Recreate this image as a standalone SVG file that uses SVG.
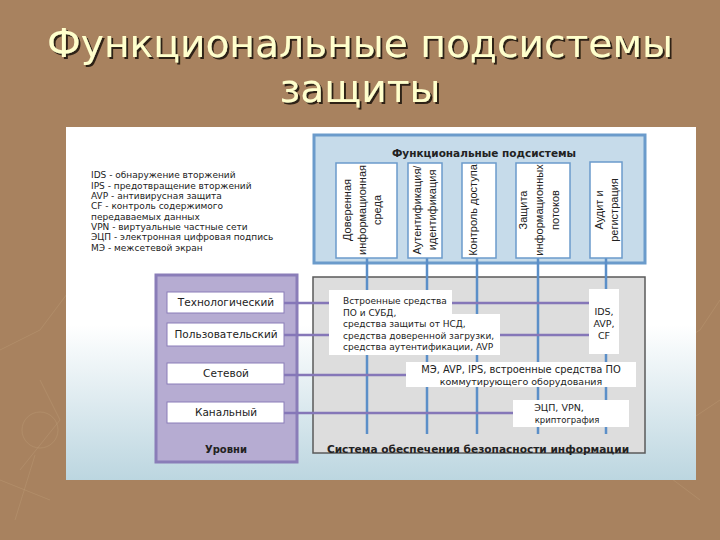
<svg xmlns="http://www.w3.org/2000/svg" width="720" height="540" viewBox="0 0 720 540">
<defs>
<linearGradient id="panelGrad" x1="0" y1="0" x2="0" y2="1">
<stop offset="0" stop-color="#FFFFFF"/>
<stop offset="0.56" stop-color="#FFFFFF"/>
<stop offset="1" stop-color="#BCD6E0"/>
</linearGradient>
<filter id="shadow" x="-5%" y="-20%" width="110%" height="150%">
<feDropShadow dx="2" dy="2" stdDeviation="0.4" flood-color="#2E2216" flood-opacity="1"/>
</filter>
<style>
.title{font-family:"DejaVu Sans",sans-serif;font-size:39.2px;fill:#FFFFCC;text-anchor:middle}
.legend{font-family:"DejaVu Sans",sans-serif;font-size:9px;fill:#222}
.sub{font-family:"Liberation Sans",sans-serif;font-size:11px;fill:#222;text-anchor:middle}
.lvl{font-family:"DejaVu Sans",sans-serif;font-size:10.5px;fill:#222;text-anchor:middle}
.lbl{font-family:"DejaVu Sans",sans-serif;font-size:9px;fill:#222}
.lblm{font-family:"DejaVu Sans",sans-serif;font-size:9.5px;fill:#222;text-anchor:middle}
.bold{font-family:"DejaVu Sans",sans-serif;font-size:10px;font-weight:bold;fill:#222;text-anchor:middle}
.subbox{fill:#FFFFFF;stroke:#6B9BCB;stroke-width:1.5}
.lvlbox{fill:#FFFFFF;stroke:#8A7DB8;stroke-width:1}
.wbox{fill:#FFFFFF;stroke:none}
.vline{stroke:#5B8FC8;stroke-width:2.5;fill:none}
.hline{stroke:#8577B8;stroke-width:2.5;fill:none}
.deco{stroke:#C0A07C;stroke-width:1;fill:none;opacity:0.35}
</style>
</defs>

<!-- background -->
<rect x="0" y="0" width="720" height="540" fill="#A8825F"/>
<g id="decor">
<path class="deco" d="M0,350 L40,330 L70,290 M20,470 L60,420 L40,380 M35,455 L15,520 M650,360 L700,330 L720,300 M660,470 L700,500 M690,420 L720,400 M0,480 L50,500"/>
<circle class="deco" cx="40" cy="430" r="18"/>
</g>

<!-- title -->
<g id="title" filter="url(#shadow)">
<text class="title" x="360" y="57">Функциональные подсистемы</text>
<text class="title" x="360" y="102">защиты</text>
</g>

<!-- white panel -->
<rect id="panel" x="66" y="127" width="630" height="353" fill="url(#panelGrad)"/>

<!-- legend -->
<g id="legend">
<text class="legend" x="91" y="178">IDS - обнаружение вторжений</text>
<text class="legend" x="91" y="189">IPS - предотвращение вторжений</text>
<text class="legend" x="91" y="199">AVP - антивирусная защита</text>
<text class="legend" x="91" y="209">CF - контроль содержимого</text>
<text class="legend" x="91" y="220">передаваемых данных</text>
<text class="legend" x="91" y="230">VPN - виртуальные частные сети</text>
<text class="legend" x="91" y="240">ЭЦП - электронная цифровая подпись</text>
<text class="legend" x="91" y="251">МЭ - межсетевой экран</text>
</g>

<!-- containers -->
<g id="subsystems">
<rect x="314" y="135" width="331" height="128" fill="#C6DBEA" stroke="#6B9BCB" stroke-width="3"/>
<text class="bold" x="484" y="157" style="font-size:10.5px">Функциональные подсистемы</text>
</g>
<g id="security-system">
<rect x="313" y="277" width="332" height="176" fill="#DDDDDD" stroke="#5A5A5A" stroke-width="1.5"/>
<text class="bold" x="478" y="453" style="font-size:10.6px">Система обеспечения безопасности информации</text>
</g>
<g id="levels">
<rect x="156" y="275" width="141" height="187" fill="#B6ACD2" stroke="#8A7DB8" stroke-width="3"/>
<text class="bold" x="226" y="453">Уровни</text>
</g>

<!-- connectors -->
<g id="connectors">
<line class="vline" x1="367" y1="258" x2="367" y2="434"/>
<line class="vline" x1="427" y1="258" x2="427" y2="434"/>
<line class="vline" x1="477" y1="258" x2="477" y2="434"/>
<line class="vline" x1="538" y1="258" x2="538" y2="434"/>
<line class="vline" x1="606" y1="258" x2="606" y2="434"/>
<line class="hline" x1="284" y1="303" x2="590" y2="303"/>
<line class="hline" x1="284" y1="335" x2="590" y2="335"/>
<line class="hline" x1="284" y1="375" x2="407" y2="375"/>
<line class="hline" x1="284" y1="413" x2="514" y2="413"/>
</g>

<!-- subsystem nodes -->
<g id="sub-trusted">
<rect class="subbox" x="336" y="163" width="61" height="95"/>
<text class="sub" transform="translate(351,210) rotate(-90)">Доверенная</text>
<text class="sub" transform="translate(366,210) rotate(-90)">информационная</text>
<text class="sub" transform="translate(381,210) rotate(-90)">среда</text>
</g>
<g id="sub-auth">
<rect class="subbox" x="408" y="163" width="34" height="95"/>
<text class="sub" transform="translate(421,210) rotate(-90)">Аутентификация/</text>
<text class="sub" transform="translate(436,210) rotate(-90)">идентификация</text>
</g>
<g id="sub-access">
<rect class="subbox" x="462" y="163" width="34" height="95"/>
<text class="sub" transform="translate(477,210) rotate(-90)">Контроль доступа</text>
</g>
<g id="sub-flows">
<rect class="subbox" x="516" y="163" width="54" height="95"/>
<text class="sub" transform="translate(527,210) rotate(-90)">Защита</text>
<text class="sub" transform="translate(543,210) rotate(-90)">информационных</text>
<text class="sub" transform="translate(559,210) rotate(-90)">потоков</text>
</g>
<g id="sub-audit">
<rect class="subbox" x="590" y="162" width="32" height="96"/>
<text class="sub" transform="translate(603,210) rotate(-90)">Аудит и</text>
<text class="sub" transform="translate(618,210) rotate(-90)">регистрация</text>
</g>

<!-- level nodes -->
<g id="lvl-tech">
<rect class="lvlbox" x="167" y="292" width="117" height="21"/>
<text class="lvl" x="226" y="306">Технологический</text>
</g>
<g id="lvl-user">
<rect class="lvlbox" x="167" y="323" width="117" height="23"/>
<text class="lvl" x="226" y="338">Пользовательский</text>
</g>
<g id="lvl-net">
<rect class="lvlbox" x="167" y="363" width="117" height="21"/>
<text class="lvl" x="226" y="377">Сетевой</text>
</g>
<g id="lvl-link">
<rect class="lvlbox" x="167" y="402" width="117" height="21"/>
<text class="lvl" x="226" y="416">Канальный</text>
</g>

<!-- security labels -->
<g id="lbl-tech">
<path class="wbox" d="M329,290 H452 V314 H500 V355 H329 Z"/>
<text class="lbl" x="343" y="304">Встроенные средства</text>
<text class="lbl" x="343" y="316">ПО и СУБД,</text>
<text class="lbl" x="343" y="327">средства защиты от НСД,</text>
<text class="lbl" x="343" y="339">средства доверенной загрузки,</text>
<text class="lbl" x="343" y="350">средства аутентификации, AVP</text>
</g>
<g id="lbl-ids">
<rect class="wbox" x="589" y="289" width="30" height="65"/>
<text class="lblm" x="604" y="315">IDS,</text>
<text class="lblm" x="604" y="327">AVP,</text>
<text class="lblm" x="604" y="339">CF</text>
</g>
<g id="lbl-net">
<rect class="wbox" x="406" y="362" width="230" height="25"/>
<text class="lblm" x="521" y="373" style="font-size:9.9px">МЭ, AVP, IPS, встроенные средства ПО</text>
<text class="lblm" x="521" y="385">коммутирующего оборудования</text>
</g>
<g id="lbl-link">
<rect class="wbox" x="513" y="400" width="116" height="27"/>
<text class="lblm" x="559" y="411">ЭЦП, VPN,</text>
<text class="lblm" x="567" y="423" style="font-size:8.5px">криптография</text>
</g>
</svg>
